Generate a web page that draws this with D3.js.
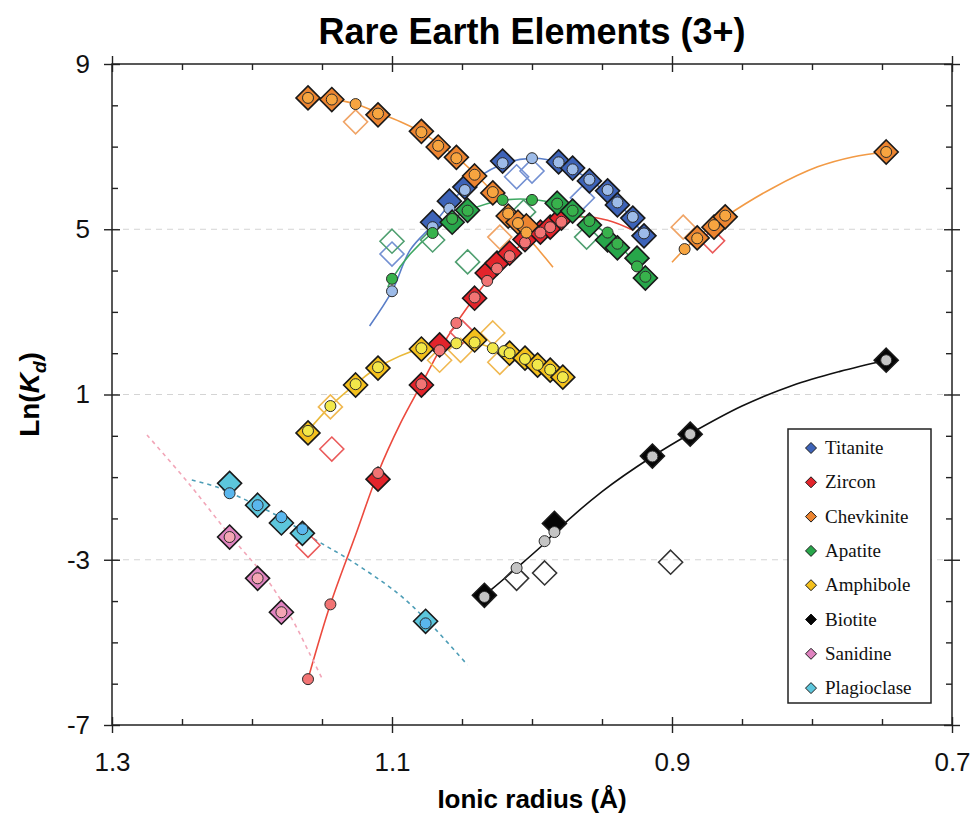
<!DOCTYPE html>
<html>
<head>
<meta charset="utf-8">
<script src="https://cdn.jsdelivr.net/npm/d3@7"></script>
<style>
  body { margin: 0; background: #fff; }
  svg { display: block; }
</style>
</head>
<body>
<svg id="chart" width="974" height="816"></svg>
<script>
// ---- axis ticks ----
const xMajorTicks = [1.3, 1.1, 0.9, 0.7];
const xMinorTicks = [1.25, 1.2, 1.15, 1.05, 1.0, 0.95, 0.85, 0.8, 0.75];
const yMajorTicks = [9, 5, 1, -3, -7];
const yMinorTicks = [8, 7, 6, 4, 3, 2, 0, -1, -2, -4, -5, -6];
const gridValues = [5, 1, -3];

// ---- data: [ionic radius (Å), ln(Kd)] ----
// Titanite
const titaniteMeasured = [[1.071,5.17],[1.059,5.68],[1.048,6.02],[1.021,6.65],[0.981,6.63],[0.971,6.48],[0.959,6.17],[0.946,5.93],[0.939,5.59],[0.928,5.27],[0.92,4.84]];
const titaniteOther = [[1.1,4.4],[1.011,6.27],[1.0,6.41],[0.964,5.76]];
const titaniteModel = [[1.1,3.5],[1.071,5.05],[1.059,5.5],[1.048,5.95],[1.021,6.6],[1.0,6.72],[0.981,6.62],[0.971,6.45],[0.959,6.2],[0.946,5.95],[0.939,5.65],[0.928,5.3],[0.92,4.9]];
const titaniteFit = [[1.116,2.66],[1.1,3.5],[1.087,4.5],[1.071,5.1],[1.048,6.0],[1.023,6.55],[1.0,6.72],[0.98,6.6],[0.959,6.2],[0.937,5.59],[0.919,4.8]];

// Zircon
const zirconMeasured = [[1.11,-1.05],[1.079,1.23],[1.066,2.2],[1.041,3.33],[1.032,3.94],[1.025,4.18],[1.016,4.42],[1.005,4.75],[0.994,4.93],[0.987,5.05],[0.979,5.27]];
const zirconOther = [[1.143,-0.32],[1.16,-2.65],[1.05,2.51],[0.871,4.72]];
const zirconModel = [[1.16,-5.89],[1.144,-4.08],[1.11,-0.9],[1.079,1.25],[1.066,2.07],[1.054,2.73],[1.041,3.35],[1.032,3.75],[1.025,4.05],[1.016,4.35],[1.005,4.68],[0.994,4.92],[0.987,5.05],[0.979,5.18]];
const zirconFit = [[1.16,-5.89],[1.144,-4.08],[1.126,-2.4],[1.11,-0.9],[1.094,0.3],[1.079,1.25],[1.066,2.07],[1.054,2.73],[1.041,3.35],[1.025,4.05],[1.005,4.7],[0.985,5.12],[0.966,5.3],[0.946,5.22],[0.928,4.98]];

// Chevkinite (two cation sites)
const chevkiniteMeasured = [[1.16,8.18],[1.143,8.14],[1.11,7.77],[1.079,7.37],[1.067,6.99],[1.054,6.74],[1.041,6.29],[1.028,5.88],[1.017,5.32],[1.01,5.17],[1.004,5.08],[0.882,4.79],[0.87,5.05],[0.862,5.3],[0.747,6.87]];
const chevkiniteOther = [[1.126,7.6],[1.023,4.81],[0.892,5.05]];
const chevkiniteModel = [[1.16,8.18],[1.143,8.14],[1.126,8.03],[1.11,7.8],[1.079,7.35],[1.067,7.02],[1.054,6.72],[1.041,6.32],[1.028,5.9],[1.017,5.38],[1.01,5.15],[1.004,4.92],[0.891,4.52],[0.882,4.78],[0.87,5.1],[0.862,5.33],[0.747,6.87]];
const chevkiniteFitA = [[1.16,8.2],[1.143,8.15],[1.126,8.03],[1.11,7.82],[1.094,7.6],[1.079,7.35],[1.066,7.05],[1.054,6.75],[1.041,6.35],[1.028,5.9],[1.016,5.4],[1.004,4.85],[0.994,4.45],[0.985,4.08]];
const chevkiniteFitB = [[0.9,4.2],[0.891,4.52],[0.882,4.8],[0.862,5.3],[0.828,6.0],[0.796,6.51],[0.771,6.75],[0.747,6.87]];

// Apatite
const apatiteMeasured = [[1.057,5.17],[1.046,5.46],[0.982,5.63],[0.971,5.44],[0.959,5.1],[0.946,4.74],[0.939,4.55],[0.925,4.3],[0.919,3.82]];
const apatiteOther = [[1.1,4.71],[1.071,4.74],[1.046,4.21],[1.006,5.42],[0.961,4.81]];
const apatiteModel = [[1.1,3.8],[1.071,4.91],[1.057,5.25],[1.046,5.45],[1.021,5.71],[1.0,5.71],[0.982,5.62],[0.971,5.45],[0.959,5.2],[0.946,4.92],[0.939,4.65],[0.925,4.1],[0.919,3.85]];
const apatiteFit = [[1.103,3.6],[1.1,3.8],[1.087,4.4],[1.071,4.92],[1.057,5.25],[1.046,5.45],[1.021,5.7],[1.0,5.72],[0.982,5.6],[0.959,5.2],[0.939,4.65],[0.919,3.9]];

// Amphibole
const amphiboleMeasured = [[1.16,0.07],[1.126,1.23],[1.11,1.64],[1.079,2.1],[1.041,2.32],[1.016,2.0],[1.005,1.88],[0.996,1.71],[0.987,1.59],[0.978,1.42]];
const amphiboleOther = [[1.144,0.7],[1.066,1.83],[1.051,2.07],[1.028,2.49],[1.023,1.78]];
const amphiboleModel = [[1.16,0.12],[1.144,0.72],[1.126,1.25],[1.11,1.66],[1.079,2.12],[1.054,2.24],[1.041,2.26],[1.028,2.12],[1.02,2.05],[1.016,2.0],[1.005,1.86],[0.996,1.72],[0.987,1.6],[0.978,1.42]];
const amphiboleFit = [[1.16,0.12],[1.144,0.72],[1.126,1.25],[1.11,1.66],[1.079,2.12],[1.054,2.24],[1.041,2.26],[1.028,2.12],[1.016,2.0],[1.005,1.86],[0.987,1.6],[0.978,1.42]];

// Biotite
const biotiteMeasured = [[1.034,-3.86],[0.984,-2.12],[0.914,-0.49],[0.887,0.04],[0.747,1.83]];
const biotiteOther = [[1.011,-3.45],[0.991,-3.32],[0.901,-3.06]];
const biotiteModel = [[1.034,-3.9],[1.011,-3.2],[0.991,-2.55],[0.984,-2.33],[0.914,-0.5],[0.887,0.04],[0.747,1.83]];
const biotiteFit = [[1.03,-3.75],[1.011,-3.2],[0.991,-2.6],[0.984,-2.35],[0.95,-1.35],[0.914,-0.5],[0.887,0.05],[0.85,0.72],[0.814,1.22],[0.78,1.56],[0.747,1.83]];

// Sanidine
const sanidineMeasured = [[1.216,-2.45],[1.196,-3.45],[1.179,-4.27]];
const sanidineOther = [];
const sanidineModel = [[1.216,-2.45],[1.196,-3.45],[1.179,-4.27]];
const sanidineFit = [[1.275,0.02],[1.246,-1.12],[1.216,-2.4],[1.189,-3.49],[1.171,-4.46],[1.159,-5.26],[1.15,-5.87]];

// Plagioclase
const plagioclaseMeasured = [[1.216,-1.15],[1.196,-1.68],[1.179,-2.11],[1.164,-2.36],[1.076,-4.49]];
const plagioclaseOther = [];
const plagioclaseModel = [[1.216,-1.39],[1.196,-1.68],[1.179,-1.97],[1.164,-2.26],[1.076,-4.54]];
const plagioclaseFit = [[1.243,-1.07],[1.225,-1.24],[1.209,-1.48],[1.18,-1.97],[1.154,-2.53],[1.13,-3.01],[1.096,-3.81],[1.073,-4.54],[1.046,-5.55]];

const minerals = [
  { name: "Titanite",    fill: "#3d63b8", other: "#7390d2", model: "#9dbbe8", line: "#5a7ec8", dash: null,
    measured: titaniteMeasured, others: titaniteOther, modelPts: titaniteModel, fits: [titaniteFit] },
  { name: "Zircon",      fill: "#e3242b", other: "#ea5a5a", model: "#f27474", line: "#ec4a3e", dash: null,
    measured: zirconMeasured, others: zirconOther, modelPts: zirconModel, fits: [zirconFit] },
  { name: "Chevkinite",  fill: "#ec8430", other: "#f0a466", model: "#f7a540", line: "#f29a45", dash: null,
    measured: chevkiniteMeasured, others: chevkiniteOther, modelPts: chevkiniteModel, fits: [chevkiniteFitA, chevkiniteFitB] },
  { name: "Apatite",     fill: "#27a64a", other: "#4f9f70", model: "#38b24c", line: "#3ea862", dash: null,
    measured: apatiteMeasured, others: apatiteOther, modelPts: apatiteModel, fits: [apatiteFit] },
  { name: "Amphibole",   fill: "#f4c01c", other: "#f0b850", model: "#f2e84a", line: "#e9b93a", dash: null,
    measured: amphiboleMeasured, others: amphiboleOther, modelPts: amphiboleModel, fits: [amphiboleFit] },
  { name: "Biotite",     fill: "#050505", other: "#333333", model: "#c4c4c4", line: "#111111", dash: null,
    measured: biotiteMeasured, others: biotiteOther, modelPts: biotiteModel, fits: [biotiteFit] },
  { name: "Sanidine",    fill: "#e083c0", other: "#e8a0c8", model: "#f4a6b4", line: "#f2a6b8", dash: "4,4",
    measured: sanidineMeasured, others: sanidineOther, modelPts: sanidineModel, fits: [sanidineFit] },
  { name: "Plagioclase", fill: "#5cc6dc", other: "#7ccde0", model: "#5ab7ee", line: "#4d9db6", dash: "4,4",
    measured: plagioclaseMeasured, others: plagioclaseOther, modelPts: plagioclaseModel, fits: [plagioclaseFit] }
];

// ---- layout ----
const svg = d3.select("#chart");
const plotLeft = 112, plotRight = 952, plotTop = 64, plotBottom = 725;
const x = d3.scaleLinear().domain([1.3, 0.7]).range([plotLeft, plotRight]);
const y = d3.scaleLinear().domain([-7, 9]).range([plotBottom, plotTop]);
const sans = "'Liberation Sans', Arial, Helvetica, sans-serif";

const diamond = r => `M0,${-r}L${r},0L0,${r}L${-r},0Z`;

// title
svg.append("text")
  .attr("x", (plotLeft + plotRight) / 2).attr("y", 44)
  .attr("text-anchor", "middle")
  .style("font-family", sans).style("font-weight", "bold").style("font-size", "36px")
  .text("Rare Earth Elements (3+)");

// dashed horizontal guides
svg.append("g").selectAll("line").data(gridValues).join("line")
  .attr("x1", plotLeft).attr("x2", plotRight)
  .attr("y1", d => y(d)).attr("y2", d => y(d))
  .attr("stroke", "#d4d4d4").attr("stroke-width", 1).attr("stroke-dasharray", "6,5");

// axes
function styleAxis(g) {
  g.select(".domain").remove();
  g.selectAll(".tick line").attr("stroke", "#222").attr("stroke-width", 1.4);
  g.selectAll(".tick text").style("font-family", sans).style("font-size", "26px").attr("fill", "#111");
}
const fmtX = d3.format(".1f");
const fmtY = d => String(d);   // plain hyphen-minus for negatives
function addAxis(axisFn, translate, values, size, fmt, pad) {
  const a = axisFn.tickValues(values).tickSize(size).tickFormat(fmt || "");
  if (pad !== undefined) a.tickPadding(pad);
  svg.append("g").attr("transform", translate).call(a).call(styleAxis);
}
// bottom
addAxis(d3.axisBottom(x), `translate(0,${plotBottom})`, xMajorTicks, 8, fmtX, 20);
addAxis(d3.axisBottom(x), `translate(0,${plotBottom})`, xMajorTicks, -8);
addAxis(d3.axisBottom(x), `translate(0,${plotBottom})`, xMinorTicks, -6);
// top
addAxis(d3.axisTop(x), `translate(0,${plotTop})`, xMajorTicks, 8);
addAxis(d3.axisTop(x), `translate(0,${plotTop})`, xMajorTicks, -8);
addAxis(d3.axisTop(x), `translate(0,${plotTop})`, xMinorTicks, -6);
// left
addAxis(d3.axisLeft(y), `translate(${plotLeft},0)`, yMajorTicks, 8, fmtY, 14);
addAxis(d3.axisLeft(y), `translate(${plotLeft},0)`, yMajorTicks, -8);
addAxis(d3.axisLeft(y), `translate(${plotLeft},0)`, yMinorTicks, -6);
// right
addAxis(d3.axisRight(y), `translate(${plotRight},0)`, yMajorTicks, 8);
addAxis(d3.axisRight(y), `translate(${plotRight},0)`, yMajorTicks, -8);
addAxis(d3.axisRight(y), `translate(${plotRight},0)`, yMinorTicks, -6);

// plot frame
svg.append("rect").attr("x", plotLeft).attr("y", plotTop)
  .attr("width", plotRight - plotLeft).attr("height", plotBottom - plotTop)
  .attr("fill", "none").attr("stroke", "#222").attr("stroke-width", 1.5);

// axis titles
svg.append("text")
  .attr("x", (plotLeft + plotRight) / 2).attr("y", 808)
  .attr("text-anchor", "middle")
  .style("font-family", sans).style("font-weight", "bold").style("font-size", "26px")
  .text("Ionic radius (Å)");

const yTitle = svg.append("text")
  .attr("transform", `translate(39,${(plotTop + plotBottom) / 2}) rotate(-90)`)
  .attr("text-anchor", "middle")
  .style("font-family", sans).style("font-weight", "bold").style("font-size", "28px");
yTitle.append("tspan").text("Ln(");
yTitle.append("tspan").style("font-style", "italic").text("K");
yTitle.append("tspan").style("font-style", "italic").style("font-size", "19px").attr("dy", 7).text("d");
yTitle.append("tspan").attr("dy", -7).text(")");

// data layers
const plot = svg.append("g");
const line = d3.line().x(d => x(d[0])).y(d => y(d[1])).curve(d3.curveCatmullRom.alpha(0.5));

// fitted curves
minerals.forEach(m => {
  m.fits.forEach(f => {
    plot.append("path").datum(f)
      .attr("d", line).attr("fill", "none")
      .attr("stroke", m.line).attr("stroke-width", 1.6)
      .attr("stroke-dasharray", m.dash);
  });
});

// hollow diamonds
minerals.forEach(m => {
  plot.append("g").selectAll("path").data(m.others).join("path")
    .attr("d", diamond(12))
    .attr("transform", d => `translate(${x(d[0])},${y(d[1])})`)
    .attr("fill", "none").attr("stroke", m.other).attr("stroke-width", 1.6);
});

// measured diamonds and model circles
minerals.forEach(m => {
  const g = plot.append("g");
  g.selectAll("path").data(m.measured).join("path")
    .attr("d", diamond(12))
    .attr("transform", d => `translate(${x(d[0])},${y(d[1])})`)
    .attr("fill", m.fill).attr("stroke", "#1a1a1a").attr("stroke-width", 1.6);
  g.selectAll("circle").data(m.modelPts).join("circle")
    .attr("cx", d => x(d[0])).attr("cy", d => y(d[1])).attr("r", 5.5)
    .attr("fill", m.model).attr("stroke", "#2a2a2a").attr("stroke-width", 1);
});

// legend
const legend = svg.append("g");
legend.append("rect").attr("x", 788).attr("y", 429).attr("width", 143).attr("height", 274)
  .attr("fill", "#fff").attr("stroke", "#222").attr("stroke-width", 1.5);
const rows = legend.selectAll("g.row").data(minerals).join("g")
  .attr("class", "row")
  .attr("transform", (d, i) => `translate(811,${448 + i * 34.3})`);
rows.append("path").attr("d", diamond(5.5))
  .attr("fill", d => d.fill).attr("stroke", "#1a1a1a").attr("stroke-width", 1);
rows.append("text").attr("x", 14).attr("y", 6)
  .style("font-family", "'Liberation Serif', 'Times New Roman', serif").style("font-size", "19px")
  .attr("fill", "#111")
  .text(d => d.name);
</script>
</body>
</html>
